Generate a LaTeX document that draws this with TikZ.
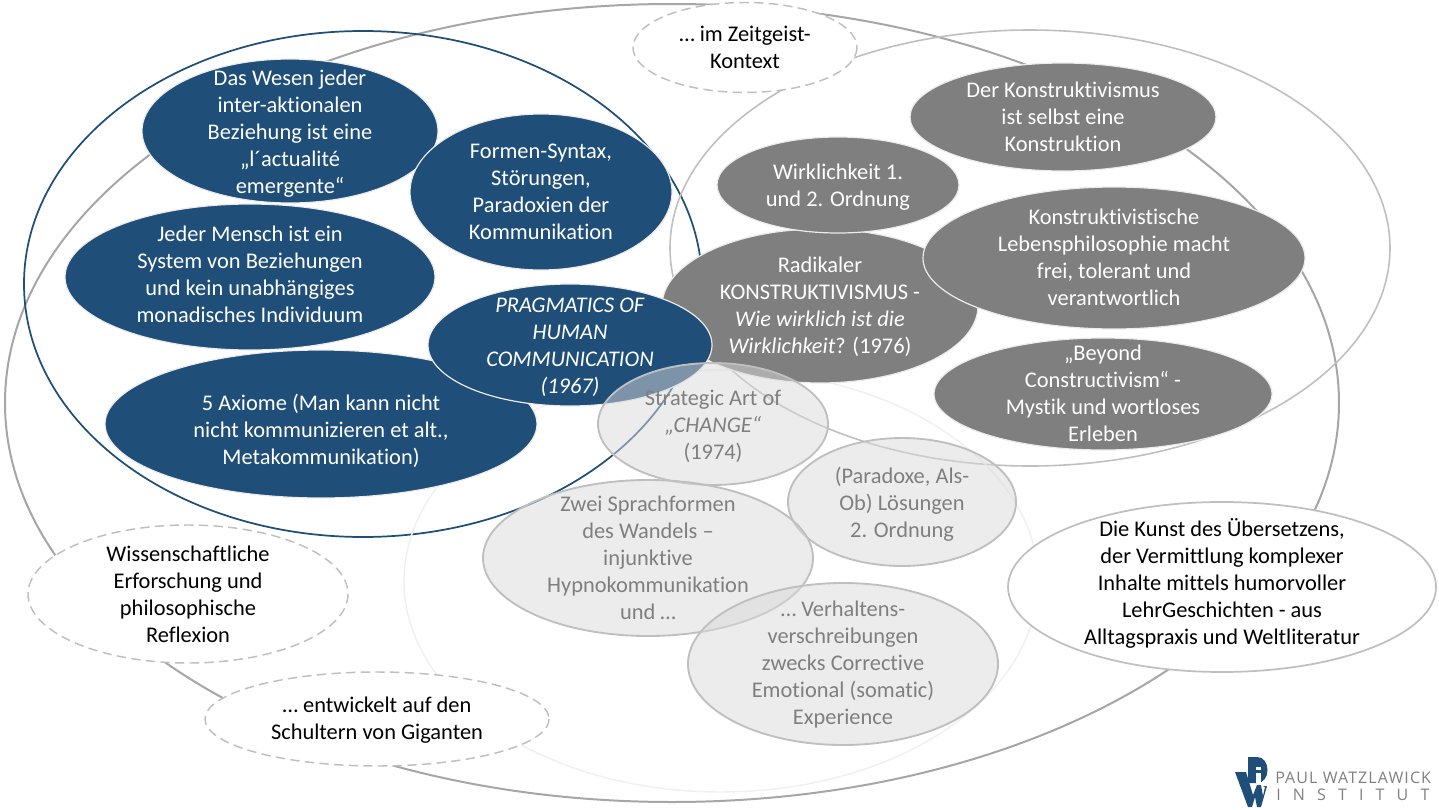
\documentclass[tikz,border=0pt]{standalone}
\usepackage{fontspec}
\setmainfont[Ligatures=NoCommon]{Carlito}
\newfontfamily\logofont[LetterSpace=7]{Open Sans}
\newfontfamily\logowide[LetterSpace=76]{Open Sans}
\usetikzlibrary{positioning}
\definecolor{wiblue}{HTML}{1F4E79}
\definecolor{wigray}{HTML}{7F7F7F}
\definecolor{wiline}{HTML}{A6A6A6}
\definecolor{wilight}{HTML}{BFBFBF}
\definecolor{wishade}{HTML}{D9D9D9}
\tikzset{
  label/.style={align=center,font=\fontsize{16.8}{20.25}\selectfont,inner sep=0pt,fill opacity=1,text opacity=1},
  blueell/.style={draw=white!92!black,line width=0.9pt,fill=wiblue},
  grayell/.style={draw=white!92!black,line width=0.9pt,fill=wigray},
  shadeell/.style={draw=wilight,line width=1.4pt,fill=wishade,fill opacity=0.5},
  dashell/.style={draw=wilight,line width=1.1pt,dashed,dash pattern=on 7pt off 4pt,fill=white},
  whitelabel/.style={label,text=white},
  graylabel/.style={label,text=wigray},
  blacklabel/.style={label,text=black},
}
\begin{document}
\begin{tikzpicture}[x=0.75pt,y=-0.75pt]
\useasboundingbox(0,0) rectangle (1439,810);
% large rings
\draw[wiline,line width=1.5pt](672,403) ellipse (667 and 399);
\draw[wiblue,line width=1.3pt](363,284) ellipse (339 and 253);
\draw[wilight,line width=1.2pt](1030,248) ellipse (360 and 218);
\draw[white!94!black,line width=1.1pt](721,581) ellipse (317 and 211);
%
\draw[grayell](820,306) ellipse (158 and 77)node[whitelabel,yshift=-0.75pt](radikal){Radikaler\\KONSTRUKTIVISMUS -\\\textit{Wie wirklich ist die}\\\textit{Wirklichkeit}? (1976)};
\draw[grayell](838,185) ellipse (121 and 48)node[whitelabel,yshift=-1.5pt](ordnung){Wirklichkeit 1.\\und 2. Ordnung};
\draw[grayell](1063,117) ellipse (153 and 54)node[whitelabel](konstrukt){Der Konstruktivismus\\ist selbst eine\\Konstruktion};
\draw[grayell](1114,258) ellipse (191 and 71)node[whitelabel,yshift=0.75pt](lebens){Konstruktivistische\\Lebensphilosophie macht\\frei, tolerant und\\verantwortlich};
\draw[grayell](1103,394) ellipse (169 and 56)node[whitelabel,yshift=0.75pt](beyond){„Beyond\\Constructivism“ -\\Mystik und wortloses\\Erleben};
%
\draw[blueell](290,131) ellipse (148 and 72)node[whitelabel,yshift=-2.25pt](wesen){Das Wesen jeder\\inter-aktionalen\\Beziehung ist eine\\„l´actualité\\emergente“};
\draw[blueell](541,192) ellipse (131 and 78)node[whitelabel](formen){Formen-Syntax,\\Störungen,\\Paradoxien der\\Kommunikation};
\draw[blueell](250,277) ellipse (185 and 73)node[whitelabel,yshift=2.25pt](mensch){Jeder Mensch ist ein\\System von Beziehungen\\und kein unabhängiges\\monadisches Individuum};
\draw[blueell](321,424) ellipse (216 and 74)node[whitelabel,yshift=-5.25pt](axiome){5 Axiome (Man kann nicht\\nicht kommunizieren et alt.,\\Metakommunikation)};
\draw[blueell](570,345) ellipse (142 and 61)node[whitelabel,yshift=-1.5pt](pragma){\textit{PRAGMATICS OF}\\\textit{HUMAN}\\\textit{COMMUNICATION}\\\textit{(1967)}};
%
\draw[shadeell](713,424) ellipse (115 and 61)node[graylabel,yshift=-1.5pt](change){Strategic Art of\\\textit{„CHANGE“}\\(1974)};
\draw[shadeell](902,502) ellipse (114 and 64)node[graylabel,yshift=-1.5pt](loesung){(Paradoxe, Als-\\Ob) Lösungen\\2. Ordnung};
\draw[shadeell](648,558) ellipse (165 and 78)node[graylabel](sprach){Zwei Sprachformen\\des Wandels –\\injunktive\\Hypnokommunikation\\und …};
\draw[shadeell](843,664) ellipse (155 and 81)node[graylabel,yshift=-0.75pt](verhalten){… Verhaltens-\\verschreibungen\\zwecks Corrective\\Emotional (somatic)\\Experience};
%
\draw[wilight,line width=1.3pt,fill=white](1222,587) ellipse (214 and 85)node[blacklabel,yshift=3pt](kunst){Die Kunst des Übersetzens,\\der Vermittlung komplexer\\Inhalte mittels humorvoller\\LehrGeschichten - aus\\Alltagspraxis und Weltliteratur};
\draw[dashell](188,594) ellipse (160 and 69)node[blacklabel](wissen){Wissenschaftliche\\Erforschung und\\philosophische\\Reflexion};
\draw[dashell](377,719) ellipse (172 and 47)node[blacklabel,yshift=-0.75pt](giganten){… entwickelt auf den\\Schultern von Giganten};
\draw[dashell](745,47.5) ellipse (112 and 45)node[blacklabel](zeitgeist){… im Zeitgeist-\\Kontext};
% logo
\fill[wiblue](1235,772)--(1246,772)--(1253,795)--(1257,785)--(1261,785)--(1263,796)--(1265,787)--(1263,786)--(1267,786)--(1261,807)--(1257,807)--(1255,797)--(1252,807)--(1248,807)--cycle;
\fill[wiblue](1248,757)--(1257,757) .. controls (1271,757) and (1271,783) .. (1257,783)--(1248,783)--cycle;
\fill[white](1256,767) rectangle (1261,770);
\fill[white](1256,773) rectangle (1261,783);
\node[anchor=west,inner sep=0pt,text=wigray,font=\logofont\fontsize{12}{14}\selectfont](paul) at (1275,778){PAUL WATZLAWICK};
\node[anchor=west,inner sep=0pt,text=wigray,font=\logowide\fontsize{12}{14}\selectfont](institut) at (1276,795){INSTITUT};
\end{tikzpicture}
\end{document}
